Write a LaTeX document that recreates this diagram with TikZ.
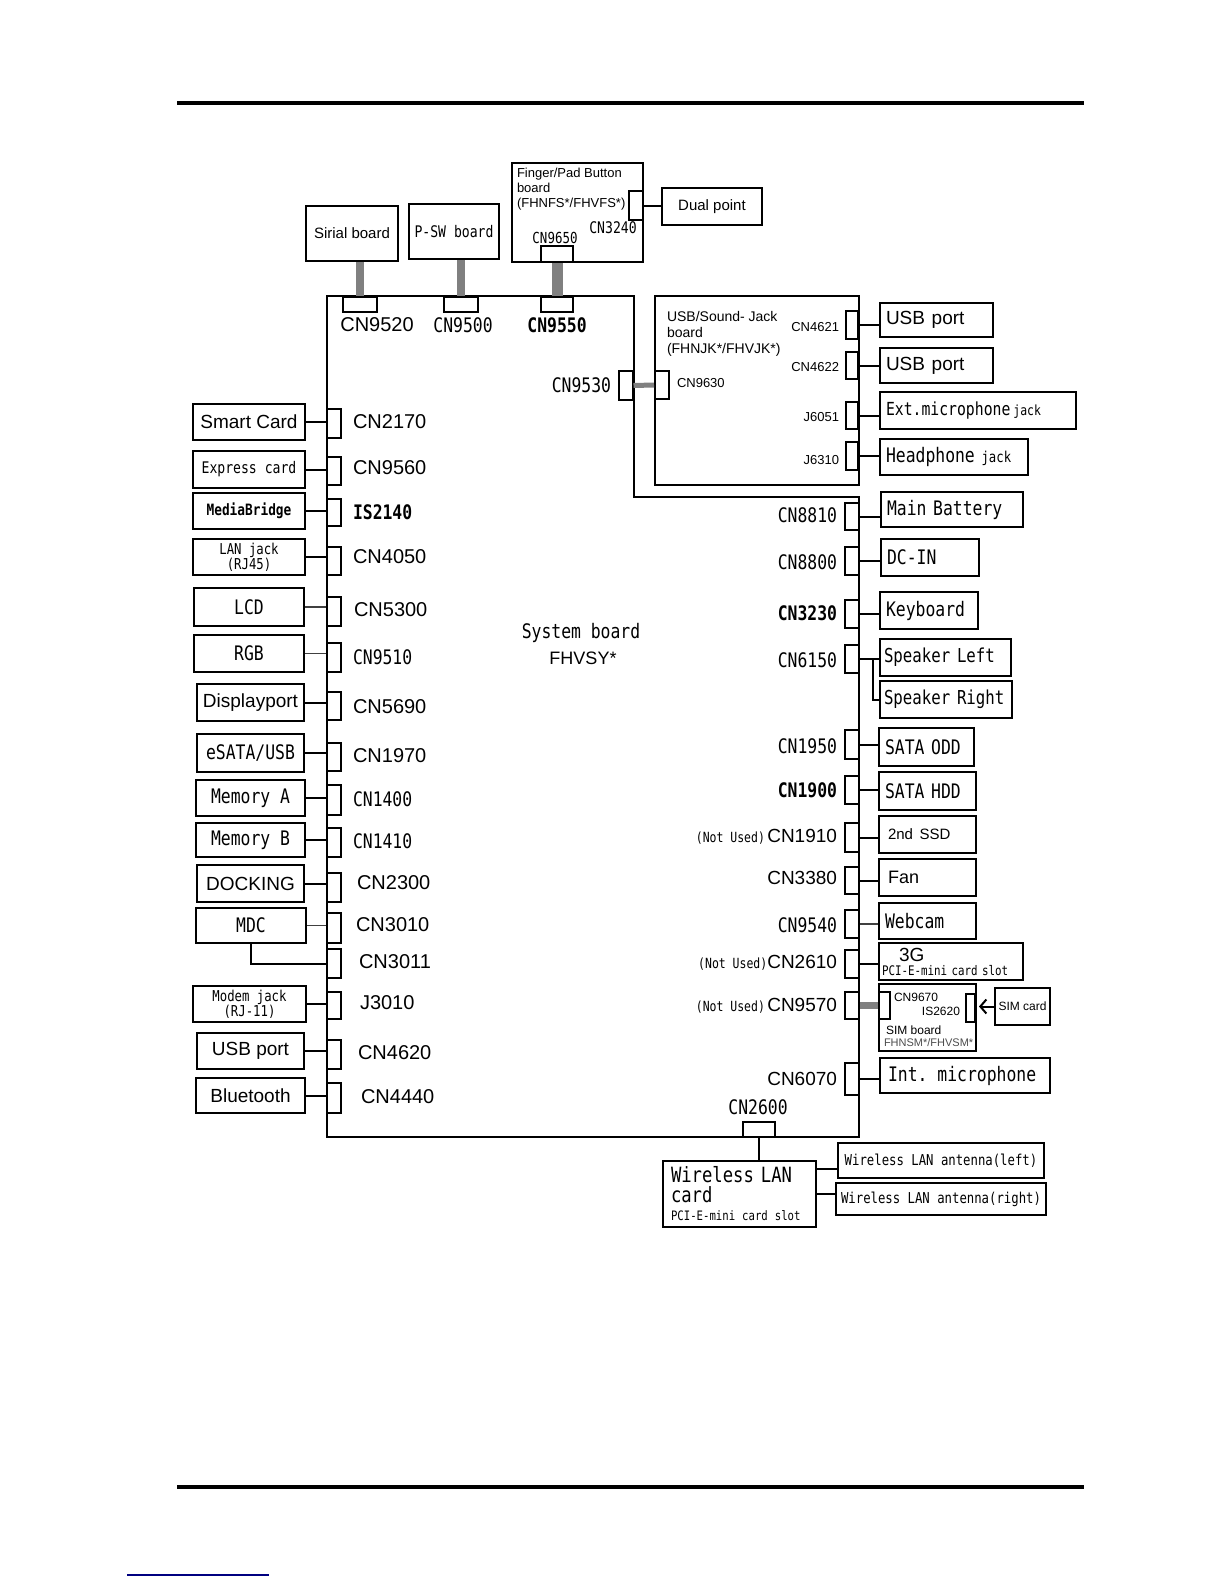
\documentclass[tikz,border=0pt]{standalone}
\usepackage{fontspec}
\setmainfont{Liberation Sans}
\newfontfamily\gfont[FakeStretch=0.82]{DejaVu Sans Mono}
\usetikzlibrary{arrows.meta}
\newcommand\af[1]{\normalfont\fontsize{#1}{#1}\selectfont}
\newcommand\gf[1]{\gfont\fontsize{#1}{#1}\selectfont}

\begin{document}
\begin{tikzpicture}[x=0.5pt,y=-0.5pt,line width=1pt,
  box/.style={draw,inner sep=0pt,align=center},
  rbox/.style={draw,anchor=west,inner xsep=3pt,inner ysep=0pt,align=left},
  con/.style={draw,fill=white,inner sep=0pt,minimum width=7pt},
  lab/.style={inner sep=0pt},
  bar/.style={draw=gray,line width=4pt},
  wthin/.style={line width=0.6pt,draw=black!75}]

\useasboundingbox (0,0) rectangle (1224,1584);
\draw[line width=2pt] (177,103) -- (1084,103);
\draw[line width=2pt] (177,1487) -- (1084,1487);
\draw[blue!50!black,line width=0.8pt] (127,1575) -- (269,1575);

% system board
\draw (327,296) -- (634,296) -- (634,497) -- (859,497) -- (859,1137) -- (327,1137) -- cycle;
\node[lab] (sysname) at (581,633) {\gf{10}System board};
\node[lab] (sysmodel) at (583,658) {\af{9}FHVSY*};

% boards on top
\node[box,minimum width=46pt,minimum height=27.5pt] (sirial) at (352,233.5) {\af{7.5}Sirial board};
\node[box,minimum width=45pt,minimum height=27.5pt] (psw) at (454,231.5) {\gf{8}P-SW board};
\node[box,minimum width=65.5pt,minimum height=49.5pt] (finger) at (577.5,212.5) {};
\node[lab,anchor=north west,align=left,font=\fontsize{6.5}{7.5}\selectfont] (fingertxt) at (516,167)
  {Finger/Pad Button\\board\\(FHNFS*/FHVFS*)};
\node[con,minimum width=16pt,minimum height=8pt] (cn9650) at (557,254) {};
\node[lab] (l9650) at (555,238) {\gf{7.6}CN9650};
\node[con,minimum height=14.5pt] (cn3240) at (636,205.5) {};
\node[lab] (l3240) at (613,228) {\gf{8}CN3240};
\node[box,minimum width=50pt,minimum height=18.5pt] (dual) at (712,206.5) {\af{7.5}Dual point};
\draw (cn3240.east) -- (cn3240.east -| dual.west);

\node[con,minimum width=17pt,minimum height=7.5pt] (cn9520) at (360,304.5) {};
\node[con,minimum width=17pt,minimum height=7.5pt] (cn9500) at (461,304.5) {};
\node[con,minimum width=16pt,minimum height=7.5pt] (cn9550) at (557,304.5) {};
\node[lab] (l9520) at (377,325) {\af{10}CN9520};
\node[lab] (l9500) at (463,325) {\gf{10}CN9500};
\node[lab] (l9550) at (557,325) {\gf{10}\bfseries CN9550};
\draw[bar] (cn9520.north |- sirial.south) -- (cn9520.north);
\draw[bar] (cn9500.north |- psw.south) -- (cn9500.north);
\draw[bar,line width=5.5pt] (cn9650.south) -- (cn9550.north);

% USB/Sound-Jack board
\node[box,minimum width=102pt,minimum height=94.5pt] (usbbrd) at (757,390.5) {};
\node[lab,anchor=north west,align=left,font=\fontsize{7}{8}\selectfont] (usbtxt) at (666,310)
  {USB/Sound- Jack\\board\\(FHNJK*/FHVJK*)};
\node[con,minimum height=14.5pt] (cn9530) at (625.5,385.5) {};
\node[con,minimum height=14pt] (cn9630) at (662,385) {};
\draw[bar,line width=2.5pt] (cn9530.east) -- (cn9630.west);
\node[lab,anchor=east] (l9530) at (612,385) {\gf{10}CN9530};
\node[lab,anchor=west] (l9630) at (676,383) {\af{6.5}CN9630};

\node[con,minimum width=6pt,minimum height=14pt] (cn4621) at (852,325) {};
\node[con,minimum width=6pt,minimum height=13.5pt] (cn4622) at (852,365.5) {};
\node[con,minimum width=6pt,minimum height=13.5pt] (j6051) at (852,415.5) {};
\node[con,minimum width=6pt,minimum height=14pt] (j6310) at (852,456) {};
\node[lab,anchor=east] (l4621) at (840,327) {\af{6.5}CN4621};
\node[lab,anchor=east] (l4622) at (840,367) {\af{6.5}CN4622};
\node[lab,anchor=east] (l6051) at (840,417) {\af{6.5}J6051};
\node[lab,anchor=east] (l6310) at (840,460) {\af{6.5}J6310};
\node[rbox,text width=50.5pt,minimum height=17pt] (usbp1) at (879,320) {\af{9.5}USB port};
\node[rbox,text width=50.5pt,minimum height=17.5pt] (usbp2) at (879,365.5) {\af{9.5}USB port};
\node[rbox,text width=92pt,minimum height=18.5pt] (extmic) at (879,410.5) {\gf{9}Ext.microphone\,\gf{7}jack};
\node[rbox,text width=68pt,minimum height=18pt] (headph) at (879,457) {\gf{10}Headphone \gf{7.5}jack};
\draw (cn4621.east) -- (cn4621.east -| usbp1.west);
\draw (cn4622.east) -- (cn4622.east -| usbp2.west);
\draw (j6051.east) -- (j6051.east -| extmic.west);
\draw (j6310.east) -- (j6310.east -| headph.west);

% left side
\node[box,minimum width=56pt,minimum height=18pt] (smart) at (249,422) {\af{9.5}Smart Card};
\node[box,minimum width=56pt,minimum height=18.5pt] (express) at (249,469.5) {\gf{8}Express card};
\node[box,minimum width=56pt,minimum height=18pt] (media) at (249,511) {\gf{7.8}\bfseries MediaBridge};
\node[box,minimum width=56pt,minimum height=18pt,font=\gfont\fontsize{7.5}{7.5}\selectfont] (lan) at (249,557) {LAN jack\\(RJ45)};
\node[box,minimum width=55pt,minimum height=19pt] (lcd) at (249,607) {\gf{10}LCD};
\node[box,minimum width=55pt,minimum height=18.5pt] (rgb) at (249,653.5) {\gf{10}RGB};
\node[box,minimum width=53.5pt,minimum height=18.5pt] (dp) at (250.5,702.5) {\af{9.5}Displayport};
\node[box,minimum width=53.5pt,minimum height=19pt] (esata) at (250.5,753) {\gf{10}eSATA/USB};
\node[box,minimum width=54.5pt,minimum height=18pt] (mema) at (250.5,798) {\gf{10}Memory A};
\node[box,minimum width=54.5pt,minimum height=17pt] (memb) at (250.5,840) {\gf{10}Memory B};
\node[box,minimum width=53.5pt,minimum height=18.5pt] (dock) at (250.5,883.5) {\af{9.5}DOCKING};
\node[box,minimum width=55pt,minimum height=17.5pt] (mdc) at (251,925.5) {\gf{10}MDC};
\node[box,minimum width=56.5pt,minimum height=18pt,font=\gfont\fontsize{7.5}{7.5}\selectfont] (modem) at (249.5,1004) {Modem jack\\(RJ-11)};
\node[box,minimum width=53.5pt,minimum height=18pt] (usbl) at (250.5,1051) {\af{9.5}USB port};
\node[box,minimum width=54.5pt,minimum height=17.5pt] (bt) at (250.5,1095.5) {\af{9.5}Bluetooth};

\node[con,minimum height=14.5pt] (cn2170) at (334,423.5) {};
\node[con,minimum height=14pt] (cn9560) at (334,471) {};
\node[con,minimum height=13.5pt] (is2140) at (334,512.5) {};
\node[con,minimum height=14pt] (cn4050) at (334,561) {};
\node[con,minimum height=14.5pt] (cn5300) at (334,611.5) {};
\node[con,minimum height=14.5pt] (cn9510) at (334,657.5) {};
\node[con,minimum height=14pt] (cn5690) at (334,706) {};
\node[con,minimum height=14pt] (cn1970) at (334,757) {};
\node[con,minimum height=15pt] (cn1400) at (334,800) {};
\node[con,minimum height=14.5pt] (cn1410) at (334,842.5) {};
\node[con,minimum height=14.5pt] (cn2300) at (334,887.5) {};
\node[con,minimum height=15pt] (cn3010) at (334,928) {};
\node[con,minimum height=14.5pt] (cn3011) at (334,963.5) {};
\node[con,minimum height=13.5pt] (j3010) at (334,1005.5) {};
\node[con,minimum height=14.5pt] (cn4620) at (334,1054.5) {};
\node[con,minimum height=15pt] (cn4440) at (334,1098) {};

\node[lab,anchor=west] (l2170) at (352,422) {\af{10}CN2170};
\node[lab,anchor=west] (l9560) at (352,468) {\af{10}CN9560};
\node[lab,anchor=west] (l2140) at (352,512) {\gf{10}\bfseries IS2140};
\node[lab,anchor=west] (l4050) at (352,557) {\af{10}CN4050};
\node[lab,anchor=west] (l5300) at (353,610) {\af{10}CN5300};
\node[lab,anchor=west] (l9510) at (352,657) {\gf{10}CN9510};
\node[lab,anchor=west] (l5690) at (352,707) {\af{10}CN5690};
\node[lab,anchor=west] (l1970) at (352,756) {\af{10}CN1970};
\node[lab,anchor=west] (l1400) at (352,799) {\gf{10}CN1400};
\node[lab,anchor=west] (l1410) at (352,841) {\gf{10}CN1410};
\node[lab,anchor=west] (l2300) at (356,883) {\af{10}CN2300};
\node[lab,anchor=west] (l3010) at (355,925) {\af{10}CN3010};
\node[lab,anchor=west] (l3011) at (358,962) {\af{10}CN3011};
\node[lab,anchor=west] (lj3010) at (359,1003) {\af{10}J3010};
\node[lab,anchor=west] (l4620) at (357,1053) {\af{10}CN4620};
\node[lab,anchor=west] (l4440) at (360,1097) {\af{10}CN4440};

\draw (smart.east) -- (smart.east -| cn2170.west);
\draw (express.east) -- (express.east -| cn9560.west);
\draw (media.east) -- (media.east -| is2140.west);
\draw (lan.east) -- (lan.east -| cn4050.west);
\draw[wthin] (lcd.east) -- (lcd.east -| cn5300.west);
\draw[wthin] (rgb.east) -- (rgb.east -| cn9510.west);
\draw (dp.east) -- (dp.east -| cn5690.west);
\draw (esata.east) -- (esata.east -| cn1970.west);
\draw (mema.east) -- (mema.east -| cn1400.west);
\draw (memb.east) -- (memb.east -| cn1410.west);
\draw (dock.east) -- (dock.east -| cn2300.west);
\draw[wthin] (mdc.east) -- (mdc.east -| cn3010.west);
\draw (mdc.south) |- (cn3011.west);
\draw (modem.east) -- (modem.east -| j3010.west);
\draw (usbl.east) -- (usbl.east -| cn4620.west);
\draw (bt.east) -- (bt.east -| cn4440.west);

% right side
\node[con,minimum height=13.5pt] (cn8810) at (852,516.5) {};
\node[con,minimum height=14pt] (cn8800) at (852,561) {};
\node[con,minimum height=14pt] (cn3230) at (852,614) {};
\node[con,minimum height=14pt] (cn6150) at (852,659) {};
\node[con,minimum height=14.5pt] (cn1950) at (852,744.5) {};
\node[con,minimum height=14pt] (cn1900) at (852,790) {};
\node[con,minimum height=14.5pt] (cn1910) at (852,837.5) {};
\node[con,minimum height=13.5pt] (cn3380) at (852,880.5) {};
\node[con,minimum height=14pt] (cn9540) at (852,924) {};
\node[con,minimum height=14pt] (cn2610) at (852,964) {};
\node[con,minimum height=13.5pt] (cn9570) at (852,1005.5) {};
\node[con,minimum height=16pt] (cn6070) at (852,1079) {};

\node[lab,anchor=east] (l8810) at (838,515) {\gf{10}CN8810};
\node[lab,anchor=east] (l8800) at (838,562) {\gf{10}CN8800};
\node[lab,anchor=east] (l3230) at (838,613) {\gf{10}\bfseries CN3230};
\node[lab,anchor=east] (l6150) at (838,660) {\gf{10}CN6150};
\node[lab,anchor=east] (l1950) at (838,746) {\gf{10}CN1950};
\node[lab,anchor=east] (l1900) at (838,790) {\gf{10}\bfseries CN1900};
\node[lab,anchor=east] (l1910) at (838,837) {\gf{7}(Not Used)\,\af{9.5}CN1910};
\node[lab,anchor=east] (l3380) at (838,878) {\af{9.5}CN3380};
\node[lab,anchor=east] (l9540) at (838,925) {\gf{10}CN9540};
\node[lab,anchor=east] (l2610) at (838,963) {\gf{7}(Not Used)\af{9.5}CN2610};
\node[lab,anchor=east] (l9570) at (838,1006) {\gf{7}(Not Used)\,\af{9.5}CN9570};
\node[lab,anchor=east] (l6070) at (838,1079) {\af{9.5}CN6070};

\node[rbox,text width=65pt,minimum height=17.5pt] (mainbat) at (880,509.5) {\gf{10}Main Battery};
\node[rbox,text width=43pt,minimum height=18.5pt] (dcin) at (880,557.5) {\gf{10}DC-IN};
\node[rbox,text width=43pt,minimum height=18.5pt] (keyb) at (879,610.5) {\gf{10}Keyboard};
\node[rbox,inner xsep=2pt,text width=61.5pt,minimum height=18.5pt] (spkl) at (879,657.5) {\gf{9.6}Speaker Left};
\node[rbox,inner xsep=2pt,text width=62pt,minimum height=18.5pt] (spkr) at (879,699.5) {\gf{9.6}Speaker Right};
\node[rbox,text width=41.5pt,minimum height=19pt] (sataodd) at (878,747) {\gf{10}SATA ODD};
\node[rbox,text width=42.5pt,minimum height=19pt] (satahdd) at (878,791) {\gf{10}SATA HDD};
\node[rbox,inner xsep=4.5pt,text width=39.5pt,minimum height=18.5pt] (ssd) at (878,834.5) {\af{7.5}2nd SSD};
\node[rbox,inner xsep=4.5pt,text width=39.5pt,minimum height=18.5pt] (fan) at (878,877.5) {\af{9}Fan};
\node[rbox,text width=42.5pt,minimum height=18pt] (webcam) at (878,921) {\gf{10}Webcam};
\node[rbox,inner xsep=1.5pt,text width=69pt,minimum height=18.5pt,font=\gfont\fontsize{6.6}{8}\selectfont] (g3) at (878,961.5)
  {\hspace*{8.5pt}{\af{9.5}3G}\\[-1pt]PCI-E-mini card slot};
\node[rbox,inner xsep=4pt,text width=77pt,minimum height=17.5pt] (intmic) at (879,1075.5) {\gf{10}Int. microphone};

\draw (cn8810.east) -- (cn8810.east -| mainbat.west);
\draw (cn8800.east) -- (cn8800.east -| dcin.west);
\draw (cn3230.east) -- (cn3230.east -| keyb.west);
\draw (cn6150.east) -- (cn6150.east -| spkl.west);
\coordinate (spk) at ([xshift=6.5pt]cn6150.east);
\draw (spk) |- (spkr.west);
\draw (cn1950.east) -- (cn1950.east -| sataodd.west);
\draw (cn1900.east) -- (cn1900.east -| satahdd.west);
\draw (cn1910.east) -- (cn1910.east -| ssd.west);
\draw (cn3380.east) -- (cn3380.east -| fan.west);
\draw[wthin] (cn9540.east) -- (cn9540.east -| webcam.west);
\draw (cn2610.east) -- (cn2610.east -| g3.west);
\draw (cn6070.east) -- (cn6070.east -| intmic.west);

% SIM board
\node[draw,anchor=west,minimum width=48.5pt,minimum height=33.5pt,inner sep=0pt] (simbrd) at (878,1017.5) {};
\node[con,minimum width=5.5pt,minimum height=13.5pt] (cn9670) at (884.5,1005.5) {};
\node[con,minimum width=4.5pt,minimum height=14pt] (is2620) at (970.5,1008) {};
\node[lab,anchor=west] (l9670) at (893,997) {\af{6}CN9670};
\node[lab,anchor=east] (l2620) at (961,1011) {\af{6}IS2620};
\node[lab,anchor=west] (lsim) at (885,1030) {\af{6}SIM board};
\node[lab,anchor=west,text=black!70] (lsimm) at (883,1043) {\af{5.5}FHNSM*/FHVSM*};
\node[box,minimum width=27.5pt,minimum height=18.5pt] (simcard) at (1022.5,1006.5) {\af{6}SIM card};
\draw[-{Straight Barb[length=3pt,width=7pt]},shorten >=1.5pt] (simcard.west) -- (simcard.west -| is2620.east);
\draw[bar,line width=3.5pt] (cn9570.east) -- (cn9670.west);

% wireless LAN
\node[con,minimum width=16pt,minimum height=7.5pt] (cn2600) at (759,1129.5) {};
\node[lab] (l2600) at (758,1107) {\gf{10}CN2600};
\node[rbox,inner xsep=4pt,text width=68.5pt,minimum height=33pt,font=\gfont\fontsize{10.5}{10}\selectfont] (wlan) at (662,1194)
  {Wireless LAN\\card\\[-1pt]{\fontsize{6.5}{8}\selectfont PCI-E-mini card slot}};
\draw (cn2600.south) -- (cn2600.south |- wlan.north);
\node[box,anchor=west,minimum width=103pt,minimum height=17.5pt] (antl) at (837,1160.5) {\gf{7.5}Wireless LAN antenna(left)};
\node[box,anchor=west,minimum width=105pt,minimum height=16pt] (antr) at (835,1199) {\gf{7.5}Wireless LAN antenna(right)};
\coordinate (wl) at ([yshift=12.5pt]wlan.east);
\draw (wl) -- (wl -| antl.west);
\draw (wlan.east) -- (wlan.east -| antr.west);

\end{tikzpicture}
\end{document}
